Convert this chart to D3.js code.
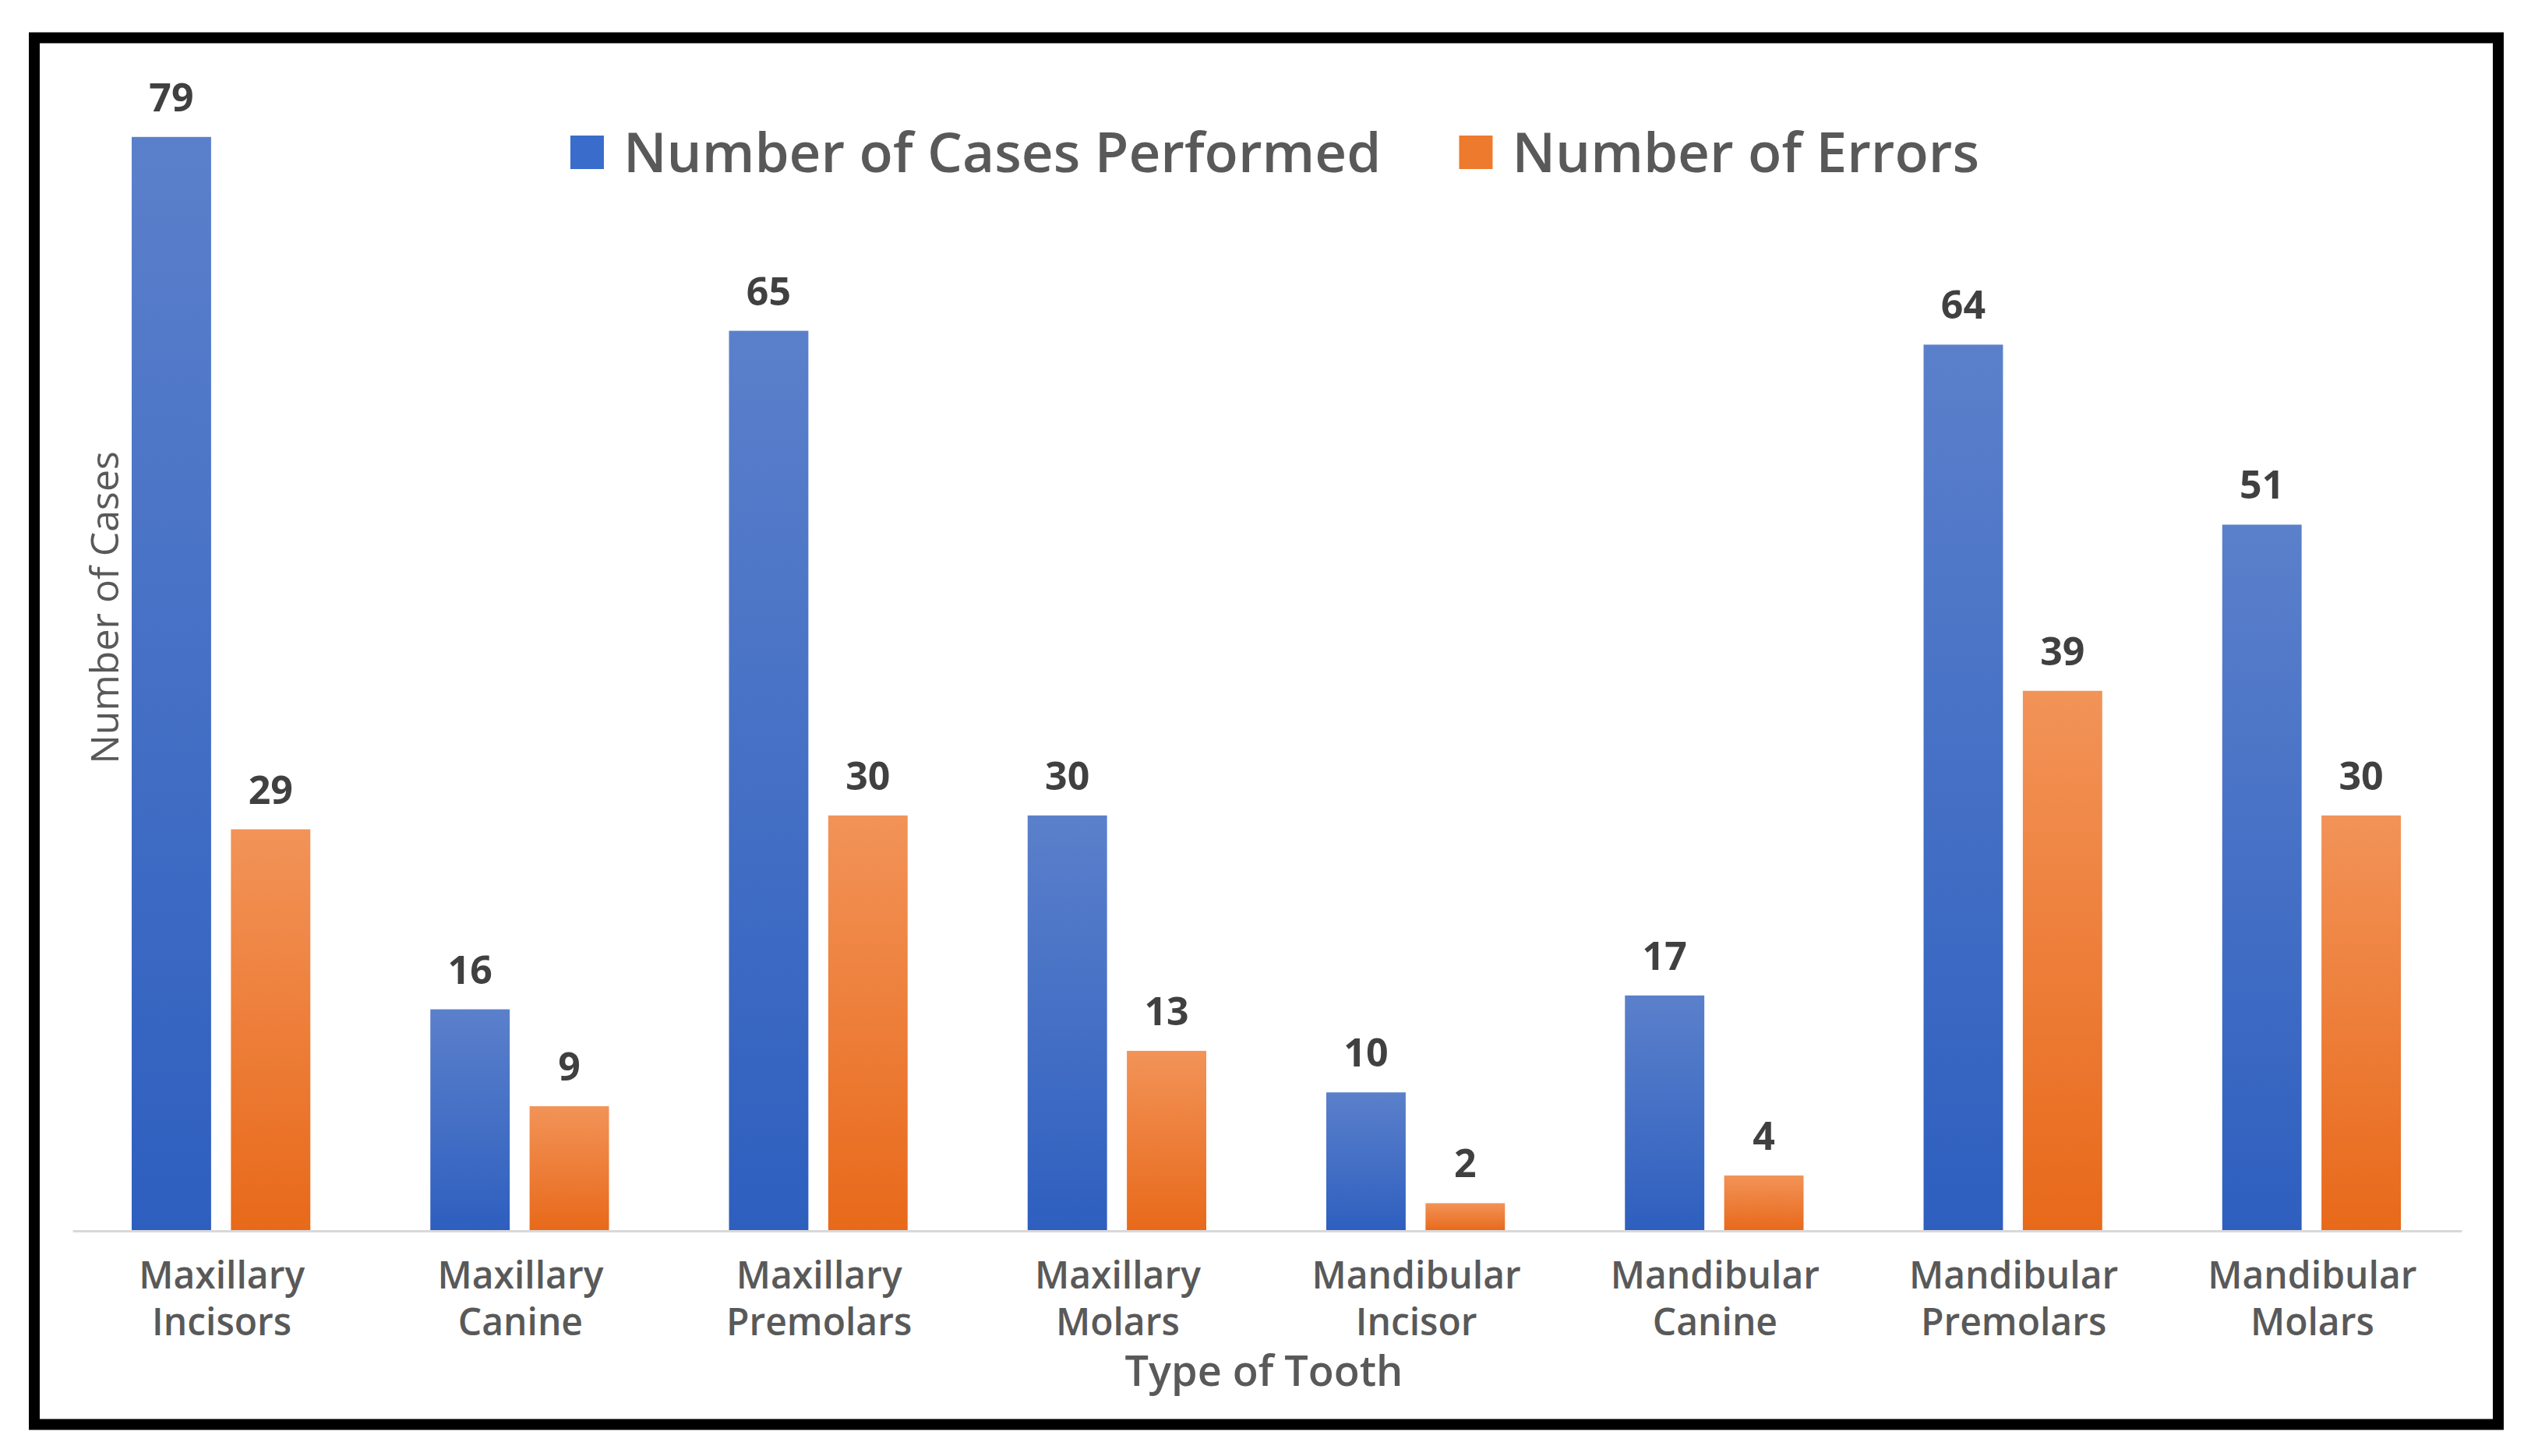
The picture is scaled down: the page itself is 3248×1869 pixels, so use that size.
<!DOCTYPE html>
<html>
<head>
<meta charset="utf-8">
<title>Type of Tooth</title>
<script src="https://cdn.jsdelivr.net/npm/d3@7"></script>
<style>
  html, body { margin: 0; padding: 0; background: #fff; }
  svg { display: block; }
</style>
</head>
<body>
<div id="chart"></div>
<script>
// data
var categories = [
  "Maxillary Incisors", "Maxillary Canine", "Maxillary Premolars", "Maxillary Molars",
  "Mandibular Incisor", "Mandibular Canine", "Mandibular Premolars", "Mandibular Molars"
];
var seriesNames = ["Number of Cases Performed", "Number of Errors"];
var casesPerformed = [79, 16, 65, 30, 10, 17, 64, 51];
var numErrors = [29, 9, 30, 13, 2, 4, 39, 30];

var W = 3248, H = 1869;
var font = "'Open Sans', 'Noto Sans', sans-serif";

var svg = d3.select("#chart").append("svg")
    .attr("width", W)
    .attr("height", H);

// gradients like the office fill
var defs = svg.append("defs");
var grads = [
  { id: "gBlue", top: "#5b80cb", bottom: "#2e5fbf" },
  { id: "gOrange", top: "#f29358", bottom: "#e8691a" }
];
grads.forEach(function(g){
  var lg = defs.append("linearGradient")
      .attr("id", g.id)
      .attr("x1", 0).attr("y1", 0).attr("x2", 0).attr("y2", 1);
  lg.append("stop").attr("offset", "0%").attr("stop-color", g.top);
  lg.append("stop").attr("offset", "100%").attr("stop-color", g.bottom);
});
var legendColors = ["#3a6ccc", "#ee7a2e"];

// frame
svg.append("rect")
    .attr("x", 44).attr("y", 48.5)
    .attr("width", 3162).attr("height", 1780)
    .attr("fill", "#fff")
    .attr("stroke", "#000")
    .attr("stroke-width", 14);

var margin = { left: 93, right: 89, top: 158, bottom: 289 };
var plotW = W - margin.left - margin.right;
var baseY = H - margin.bottom;

var x0 = d3.scaleBand()
    .domain(categories)
    .range([margin.left, margin.left + plotW])
    .paddingInner(0)
    .paddingOuter(0);

var x1 = d3.scaleBand()
    .domain(seriesNames)
    .range([76, x0.bandwidth() - 78])
    .paddingInner(0.2);

var y = d3.scaleLinear()
    .domain([0, 80])
    .range([baseY, margin.top]);

var rows = categories.map(function(c, i){
  return { cat: c, vals: [casesPerformed[i], numErrors[i]] };
});

var groups = svg.selectAll("g.grp")
    .data(rows)
    .enter()
    .append("g")
    .attr("class", "grp")
    .attr("transform", function(d){ return "translate(" + x0(d.cat) + ",0)"; });

groups.selectAll("rect")
    .data(function(d){ return d.vals.map(function(v, k){ return { s: seriesNames[k], v: v, k: k }; }); })
    .enter()
    .append("rect")
    .attr("x", function(d){ return x1(d.s); })
    .attr("y", function(d){ return y(d.v); })
    .attr("width", x1.bandwidth())
    .attr("height", function(d){ return baseY - y(d.v); })
    .attr("fill", function(d){ return "url(#" + grads[d.k].id + ")"; });

groups.selectAll("text.val")
    .data(function(d){ return d.vals.map(function(v, k){ return { s: seriesNames[k], v: v }; }); })
    .enter()
    .append("text")
    .attr("class", "val")
    .attr("x", function(d){ return x1(d.s) + x1.bandwidth() / 2; })
    .attr("y", function(d){ return y(d.v) - 33; })
    .attr("text-anchor", "middle")
    .attr("font-family", font)
    .attr("font-weight", "bold")
    .attr("font-size", 50)
    .attr("fill", "#404040")
    .text(function(d){ return d.v; });

// category axis
var xAxis = d3.axisBottom(x0).tickSize(0).tickFormat("");
var axG = svg.append("g")
    .attr("transform", "translate(0," + baseY + ")")
    .call(xAxis);
axG.select(".domain").attr("stroke", "#d9d9d9").attr("stroke-width", 3);

axG.selectAll(".tick").each(function(d){
  var words = d.split(" ");
  var t = d3.select(this).append("text")
      .attr("text-anchor", "middle")
      .attr("font-family", font)
      .attr("font-weight", 600)
      .attr("font-size", 48)
      .attr("fill", "#595959");
  t.append("tspan").attr("x", 0).attr("y", 74).text(words[0]);
  t.append("tspan").attr("x", 0).attr("y", 134).text(words.slice(1).join(" "));
});

// axis titles
svg.append("text")
    .attr("x", 1622)
    .attr("y", 1779)
    .attr("text-anchor", "middle")
    .attr("font-family", font)
    .attr("font-weight", 600)
    .attr("font-size", 54)
    .attr("fill", "#595959")
    .text("Type of Tooth");

svg.append("text")
    .attr("transform", "translate(152,780) rotate(-90)")
    .attr("text-anchor", "middle")
    .attr("font-family", font)
    .attr("font-size", 50)
    .attr("fill", "#595959")
    .text("Number of Cases");

// legend
var leg = svg.append("g");
var items = leg.selectAll("g.item")
    .data(seriesNames)
    .enter()
    .append("g")
    .attr("class", "item");
items.append("rect")
    .attr("width", 43).attr("height", 43)
    .attr("y", 174)
    .attr("fill", function(d, i){ return legendColors[i]; });
items.append("text")
    .attr("x", 68)
    .attr("y", 221)
    .attr("font-family", font)
    .attr("font-weight", 600)
    .attr("font-size", 71)
    .attr("fill", "#595959")
    .text(function(d){ return d; });

var offs = 0, widths = [];
items.each(function(){
  var w = 68 + this.querySelector("text").getComputedTextLength();
  widths.push(w);
});
var total = d3.sum(widths) + 100;
var start = 1636 - total / 2;
items.attr("transform", function(d, i){
  var tx = start + offs;
  offs += widths[i] + 100;
  return "translate(" + tx + ",0)";
});
</script>
</body>
</html>
